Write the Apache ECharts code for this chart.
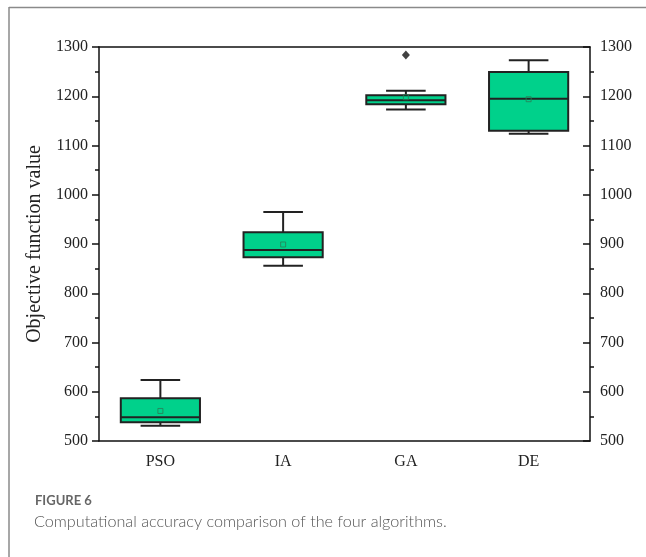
<!DOCTYPE html>
<html>
<head>
<meta charset="utf-8">
<script src="https://cdn.jsdelivr.net/npm/echarts@6/dist/echarts.min.js"></script>
<style>html,body{margin:0;padding:0;background:#fff;}#c{width:646px;height:557px;}</style>
</head>
<body>
<div id="c"></div>
<script>
const categories = ['PSO', 'IA', 'GA', 'DE'];
// [min whisker, Q1, median, Q3, max whisker]
const boxValues = [
  [531, 538, 548, 587, 624],
  [856, 873, 888, 924, 965],
  [1173, 1184, 1192, 1202, 1211],
  [1124, 1130, 1195, 1249, 1273]
];
const meanValues = [561, 899, 1198, 1194];
const outliers = [[2, 1284]];
const yTicks = { min: 500, max: 1300, interval: 100 };

const chart = echarts.init(document.getElementById('c'));
const serif = 'Liberation Serif';
const boxData = boxValues.map((v, i) => [i].concat(v));
const plain = v => String(v);

chart.setOption({
  animation: false,
  backgroundColor: '#fff',
  grid: { left: 99, right: 56, top: 47, bottom: 116 },
  xAxis: [{
    type: 'category', data: categories, position: 'bottom',
    axisLine: { lineStyle: { color: '#111', width: 1.5 } },
    axisTick: { alignWithLabel: true, length: 7, lineStyle: { color: '#111', width: 1.5 } },
    axisLabel: { fontFamily: serif, fontSize: 16, color: '#222', margin: 13 },
    splitLine: { show: false }
  }, {
    type: 'category', data: categories, position: 'top',
    axisLine: { lineStyle: { color: '#111', width: 1.5 } },
    axisTick: { show: false }, axisLabel: { show: false }
  }],
  yAxis: [{
    type: 'value', min: yTicks.min, max: yTicks.max, interval: yTicks.interval, position: 'left',
    name: 'Objective function value', nameLocation: 'middle', nameGap: 47,
    nameTextStyle: { fontFamily: serif, fontSize: 20, color: '#222' },
    axisLine: { show: true, lineStyle: { color: '#111', width: 1.5 } },
    axisTick: { show: true, length: 7, lineStyle: { color: '#111', width: 1.5 } },
    minorTick: { show: true, splitNumber: 2, length: 4, lineStyle: { color: '#111', width: 1.5 } },
    axisLabel: { fontFamily: serif, fontSize: 16, color: '#222', margin: 11, formatter: plain },
    splitLine: { show: false }
  }, {
    type: 'value', min: yTicks.min, max: yTicks.max, interval: yTicks.interval, position: 'right',
    axisLine: { show: true, lineStyle: { color: '#111', width: 1.5 } },
    axisTick: { show: true, inside: true, length: 7, lineStyle: { color: '#111', width: 1.5 } },
    minorTick: { show: true, splitNumber: 2, length: -4, lineStyle: { color: '#111', width: 1.5 } },
    axisLabel: { fontFamily: serif, fontSize: 16, color: '#222', margin: 10, formatter: plain },
    splitLine: { show: false }
  }],
  series: [{
    type: 'custom',
    data: boxData,
    encode: { x: 0, y: [1, 2, 3, 4, 5] },
    renderItem: function (params, api) {
      const idx = api.value(0);
      const band = api.size([1, 0])[0];
      const bw = band * 0.645;
      const cw = bw * 0.5;
      const pMin = api.coord([idx, api.value(1)]);
      const pQ1 = api.coord([idx, api.value(2)]);
      const pMed = api.coord([idx, api.value(3)]);
      const pQ3 = api.coord([idx, api.value(4)]);
      const pMax = api.coord([idx, api.value(5)]);
      const x = pMin[0];
      const ls = { stroke: '#222', lineWidth: 2 };
      return {
        type: 'group',
        children: [
          { type: 'line', shape: { x1: x, y1: pMax[1], x2: x, y2: pQ3[1] }, style: ls },
          { type: 'line', shape: { x1: x, y1: pQ1[1], x2: x, y2: pMin[1] }, style: ls },
          { type: 'line', shape: { x1: x - cw / 2, y1: pMax[1], x2: x + cw / 2, y2: pMax[1] }, style: ls },
          { type: 'line', shape: { x1: x - cw / 2, y1: pMin[1], x2: x + cw / 2, y2: pMin[1] }, style: ls },
          { type: 'rect', shape: { x: x - bw / 2, y: pQ3[1], width: bw, height: pQ1[1] - pQ3[1] },
            style: { fill: '#00d18b', stroke: '#222', lineWidth: 2 } },
          { type: 'line', shape: { x1: x - bw / 2, y1: pMed[1], x2: x + bw / 2, y2: pMed[1] }, style: ls }
        ]
      };
    },
    z: 2
  }, {
    type: 'scatter',
    data: meanValues.map((v, i) => [i, v]),
    symbol: 'rect', symbolSize: 5,
    itemStyle: { color: 'rgba(0,0,0,0)', borderColor: '#2a7d55', borderWidth: 1 },
    z: 3
  }, {
    type: 'scatter',
    data: outliers,
    symbol: 'diamond', symbolSize: [8, 9],
    itemStyle: { color: '#111' },
    z: 3
  }],
  graphic: [
    { type: 'line', shape: { x1: 9, y1: 7.5, x2: 646, y2: 7.5 }, style: { stroke: '#8a8a8a', lineWidth: 1.5 } },
    { type: 'line', shape: { x1: 9, y1: 7, x2: 9, y2: 557 }, style: { stroke: '#8a8a8a', lineWidth: 1.5 } },
    { type: 'text', left: 35, top: 494, style: { text: 'FIGURE 6', font: '700 13px Lato', fill: '#666' } },
    { type: 'text', left: 34, top: 514, style: { text: 'Computational accuracy comparison of the four algorithms.', font: '300 16.2px Lato', fill: '#555' } }
  ]
});
</script>
</body>
</html>
